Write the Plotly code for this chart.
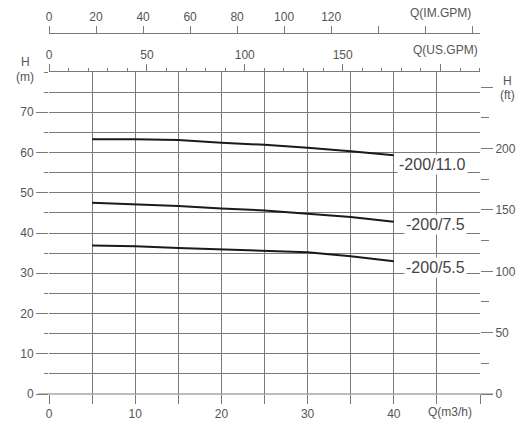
import plotly.graph_objects as go

# ---- data ----
flow_m3h = [5, 10, 15, 20, 25, 30, 35, 40]
head_200_110 = [63.3, 63.3, 63.1, 62.4, 61.9, 61.2, 60.3, 59.3]
head_200_75 = [47.5, 47.1, 46.7, 46.1, 45.6, 44.8, 44.0, 42.8]
head_200_55 = [36.9, 36.7, 36.3, 35.9, 35.6, 35.2, 34.2, 33.0]
series_names = ["-200/11.0", "-200/7.5", "-200/5.5"]
series_heads = [head_200_110, head_200_75, head_200_55]

x_tickvals = [0, 5, 10, 15, 20, 25, 30, 35, 40, 45, 50]
x_ticktext = ["0", "", "10", "", "20", "", "30", "", "40", "", ""]
y_tickvals = [0, 10, 20, 30, 40, 50, 60, 70]
ft_tickvals = [0, 50, 100, 150, 200, 250]
ft_ticktext = ["0", "50", "100", "150", "200", ""]
us_tickvals = [0, 50, 100, 150, 200]
us_ticktext = ["0", "50", "100", "150", ""]
im_tickvals = [0, 20, 40, 60, 80, 100, 120, 140, 160, 180]
im_ticktext = ["0", "20", "40", "60", "80", "100", "120", "", "", ""]

X_MAX = 50
Y_MAX = 80
M_TO_FT = 3.28084
M3H_TO_USGPM = 4.4029
M3H_TO_IMGPM = 3.6662

GRID = "#7a7a7a"
TXT = "#555555"
FONT = "Liberation Sans, Arial, sans-serif"

fig = go.Figure()
for name, h in zip(series_names, series_heads):
    fig.add_trace(go.Scatter(x=flow_m3h, y=h, mode="lines", name=name,
                             line=dict(color="#1a1a1a", width=2), showlegend=False,
                             xaxis="x", yaxis="y"))
# dummy traces to activate secondary axes
fig.add_trace(go.Scatter(x=[None], y=[None], xaxis="x2", yaxis="y", showlegend=False))
fig.add_trace(go.Scatter(x=[None], y=[None], xaxis="x3", yaxis="y", showlegend=False))
fig.add_trace(go.Scatter(x=[None], y=[None], xaxis="x", yaxis="y2", showlegend=False))

# curve labels
label_pos = [(40.4, 57.0), (41.2, 42.1), (41.2, 31.4)]
for name, (lx, ly) in zip(series_names, label_pos):
    fig.add_annotation(x=lx, y=ly, xref="x", yref="y", text=name, showarrow=False,
                       xanchor="left", yanchor="middle", bgcolor="white",
                       font=dict(size=16, color="#444444", family=FONT), borderpad=1)

ydom = [0, 322 / 361]

fig.update_layout(
    template="none",
    width=523, height=433,
    margin=dict(l=49, r=43, t=33, b=39, autoexpand=False),
    paper_bgcolor="white", plot_bgcolor="white",
    font=dict(family=FONT, size=12, color=TXT),
    xaxis=dict(range=[0, X_MAX], tickvals=x_tickvals, ticktext=x_ticktext,
               automargin=False,
               showgrid=True, gridcolor=GRID, gridwidth=1, zeroline=False,
               showline=False, ticks="outside", ticklen=9, tickcolor=GRID,
               tickfont=dict(size=12, color=TXT)),
    yaxis=dict(range=[0, Y_MAX], domain=ydom, tickvals=y_tickvals,
               automargin=False,
               showgrid=True, gridcolor=GRID, gridwidth=1, zeroline=False,
               showline=False, ticks="outside", ticklen=12, tickcolor=GRID,
               tickfont=dict(size=12, color=TXT),
               minor=dict(dtick=5, tick0=0, showgrid=True, gridcolor=GRID,
                          ticks="outside", ticklen=4, tickcolor=GRID)),
    yaxis2=dict(range=[0, Y_MAX * M_TO_FT], overlaying="y", side="right",
                automargin=False,
                tickvals=ft_tickvals, ticktext=ft_ticktext, showgrid=False,
                zeroline=False, showline=False, ticks="outside", ticklen=12,
                tickcolor=GRID, tickfont=dict(size=12, color=TXT),
                minor=dict(dtick=25, tick0=0, ticks="outside", ticklen=8,
                           tickcolor=GRID, showgrid=False)),
    xaxis2=dict(range=[0, X_MAX * M3H_TO_USGPM], overlaying="x", side="top",
                automargin=False,
                anchor="y", tickvals=us_tickvals, ticktext=us_ticktext,
                showgrid=False, zeroline=False, showline=True, linecolor=GRID,
                ticks="outside", ticklen=7, tickcolor=GRID,
                tickfont=dict(size=12, color=TXT),
                minor=dict(dtick=10, tick0=0, ticks="outside", ticklen=3,
                           tickcolor=GRID, showgrid=False)),
    xaxis3=dict(range=[0, X_MAX * M3H_TO_IMGPM], overlaying="x", side="top",
                automargin=False,
                anchor="free", position=1.0, tickvals=im_tickvals,
                ticktext=im_ticktext, showgrid=False, zeroline=False,
                showline=True, linecolor=GRID, ticks="outside", ticklen=7,
                tickcolor=GRID, tickfont=dict(size=12, color=TXT)),
)

# extended bottom axis line
fig.add_shape(type="line", xref="paper", yref="paper",
              x0=-11 / 431, x1=444 / 431, y0=0, y1=0,
              line=dict(color=GRID, width=1))

def px_ann(px, py, text, **kw):
    fig.add_annotation(x=(px - 49) / 431, y=(394 - py) / 361, xref="paper",
                       yref="paper", text=text, showarrow=False,
                       xanchor="center", yanchor="middle",
                       font=dict(size=12, color=TXT, family=FONT), **kw)

px_ann(25, 62, "H")
px_ann(25, 77, "(m)", )
px_ann(507, 81, "H")
px_ann(507, 95, "(ft)")
px_ann(450, 412, "Q(m3/h)")
px_ann(445, 50, "Q(US.GPM)")
px_ann(440, 13, "Q(IM.GPM)")

fig.write_html("out.html", config={"displayModeBar": False},
               post_script="document.body.style.margin='0';document.body.style.overflow='hidden';")
